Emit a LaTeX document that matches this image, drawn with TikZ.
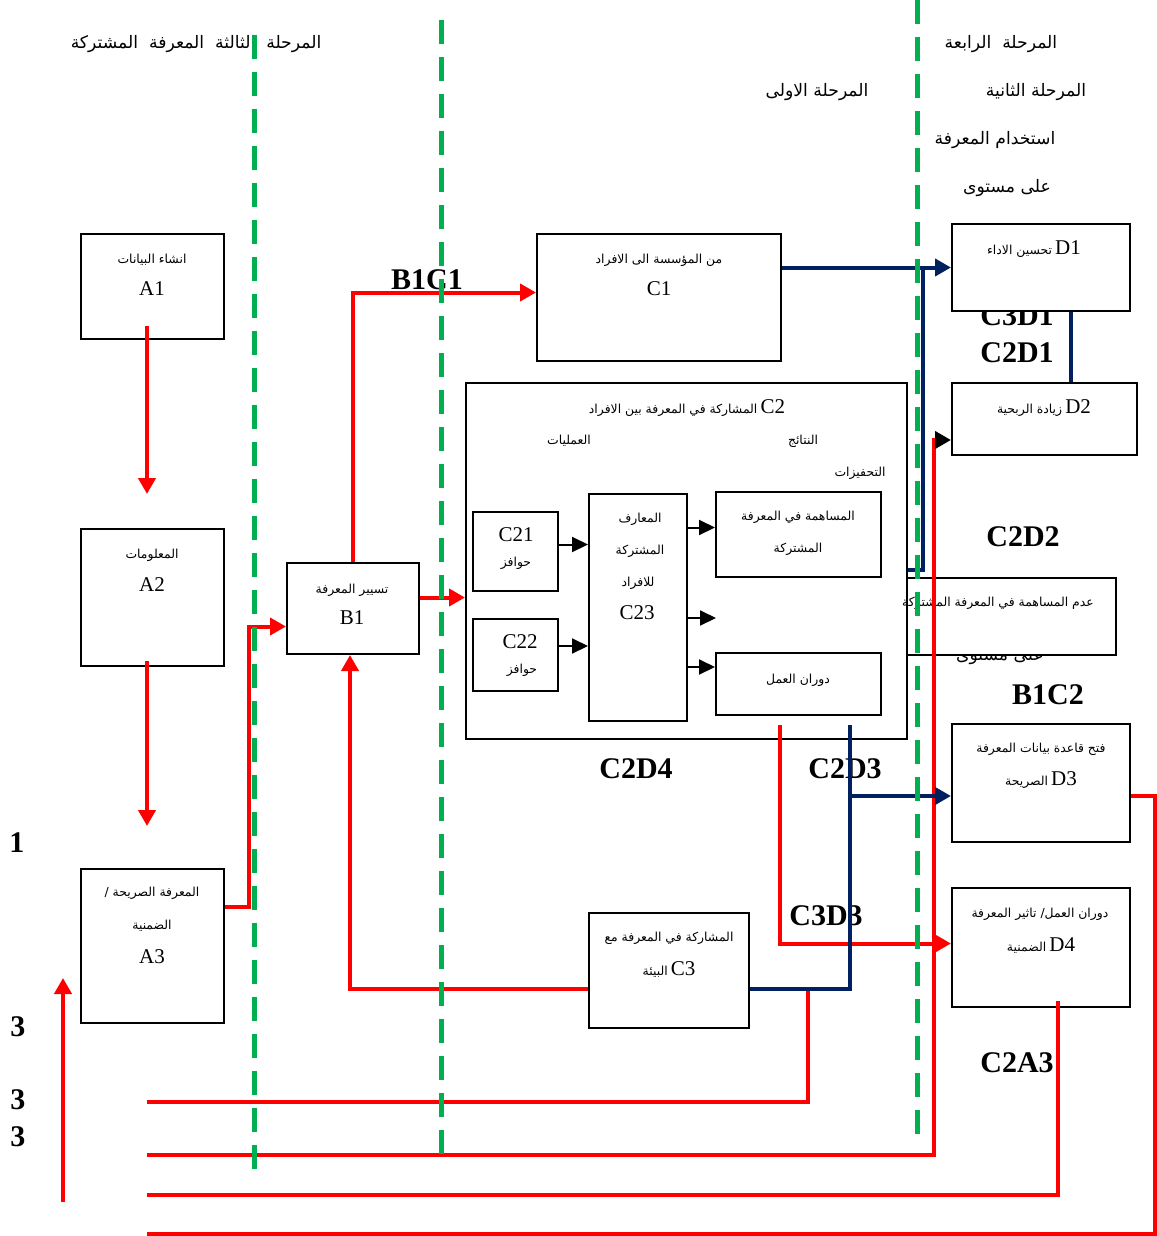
\documentclass[tikz,border=0pt]{standalone}
\usepackage{fontspec}
\setmainfont{Liberation Serif}
\newfontfamily\arabicfont[Script=Arabic]{DejaVu Sans}
\TeXXeTstate=1
\usetikzlibrary{arrows.meta, fit, calc}
\definecolor{Mirojo}{RGB}{255,0,0}
\definecolor{Miazul}{RGB}{0,32,96}
\definecolor{Miverde}{RGB}{0,176,80}
\newcommand{\artxt}[1]{{\arabicfont\beginR #1\endR}}
\newcommand{\lat}[1]{{\fontsize{10.5}{12}\selectfont #1}}

\begin{document}
\begin{tikzpicture}[x=0.5pt, y=-0.5pt,
  caja/.style={draw, line width=1pt, fill=white, inner sep=0pt},
  txa/.style={inner sep=0pt, font=\fontsize{6.2}{7.4}\selectfont},
  txl/.style={inner sep=0pt, font=\fontsize{10.5}{12}\selectfont},
  cab/.style={inner sep=0pt, font=\fontsize{8.6}{10}\selectfont},
  etq/.style={inner sep=0pt, font=\fontsize{15}{16}\selectfont\bfseries},
  fr/.style={Mirojo, line width=2pt, -{Triangle[length=8pt, width=8.5pt]}},
  frk/.style={Mirojo, line width=2pt, -{Triangle[length=8pt, width=8.5pt, color=black]}},
  lr/.style={Mirojo, line width=2pt},
  fn/.style={Miazul, line width=2pt, -{Triangle[length=8pt, width=8.5pt]}},
  ln/.style={Miazul, line width=2pt},
  fk/.style={black, line width=1pt, -{Triangle[length=8pt, width=7.5pt]}},
  gv/.style={Miverde, line width=2.5pt, dash pattern=on 12pt off 6.5pt}
]
\fill[white] (0,0) rectangle (1156,1236);
\useasboundingbox (0,0) rectangle (1156,1236);

%% ── Cabeceras ────────────────────────────────────────────────────────
\node[cab] (H3) at (196,44)  {\artxt{المرحلة\ \ الثالثة\ \ المعرفة\ \ المشتركة}};
\node[cab] (H4) at (1001,44) {\artxt{المرحلة\ \ الرابعة}};
\node[cab] (H1) at (817,92)  {\artxt{المرحلة الاولى}};
\node[cab] (H2) at (1036,92) {\artxt{المرحلة الثانية}};
\node[cab] (H5) at (995,140) {\artxt{استخدام المعرفة}};
\node[cab] (H6) at (1007,188) {\artxt{على مستوى}};
\node[cab] (H7) at (1000,656) {\artxt{على مستوى}};

%% ── Etiquetas ────────────────────────────────────────────────────────
\node[etq] (lB1C1) at (427,280)  {B1C1};
\node[etq] (lC3D1) at (1017,316) {C3D1};
\node[etq] (lC2D1) at (1017,353) {C2D1};
\node[etq] (lC2D2) at (1023,537) {C2D2};
\node[etq] (lB1C2) at (1048,695) {B1C2};
\node[etq] (lC2D4) at (636,769)  {C2D4};
\node[etq] (lC2D3) at (845,769)  {C2D3};
\node[etq] (lC3D3) at (826,916)  {C3D3};
\node[etq] (lC2A3) at (1017,1063) {C2A3};
\node[etq] (n1) at (17,843)  {1};
\node[etq] (n3a) at (18,1027) {3};
\node[etq] (n3b) at (18,1100) {3};
\node[etq] (n3c) at (18,1137) {3};

%% ── Cajas A ──────────────────────────────────────────────────────────
\node[caja, fit={(81,234) (224,339)}] (A1) {};
\node[caja, fit={(81,529) (224,666)}] (A2) {};
\node[caja, fit={(81,869) (224,1023)}] (A3) {};
\node[txa] (A1a) at (152,260) {\artxt{انشاء البيانات}};
\node[txl] (A1b) at (152,289) {A1};
\node[txa] (A2a) at (152,555) {\artxt{المعلومات}};
\node[txl] (A2b) at (152,585) {A2};
\node[txa] (A3a) at (152,893) {\artxt{المعرفة الصريحة /}};
\node[txa] (A3b) at (152,926) {\artxt{الضمنية}};
\node[txl] (A3c) at (152,957) {A3};

%% ── Caja B ───────────────────────────────────────────────────────────
\node[caja, fit={(287,563) (419,654)}] (B1) {};
\node[txa] (B1a) at (352,590) {\artxt{تسيير المعرفة}};
\node[txl] (B1b) at (352,618) {B1};

%% ── Cajas C ──────────────────────────────────────────────────────────
\node[caja, fit={(537,234) (781,361)}] (C1) {};
\node[txa] (C1a) at (659,260) {\artxt{من المؤسسة الى الافراد}};
\node[txl] (C1b) at (659,289) {C1};

\node[caja, fit={(466,383) (907,739)}] (C2) {};
\node[txa] (C2a) at (687,408) {\artxt{المشاركة في المعرفة بين الافراد}\ \lat{C2}};
\node[txa] (C2b) at (569,441) {\artxt{العمليات}};
\node[txa] (C2c) at (803,441) {\artxt{النتائج}};
\node[txa] (C2d) at (860,473) {\artxt{التحفيزات}};

\node[caja, fit={(473,512) (558,591)}] (C21) {};
\node[txl] (C21a) at (516,535) {C21};
\node[txa] (C21b) at (516,563) {\artxt{حوافز}};
\node[caja, fit={(473,619) (558,691)}] (C22) {};
\node[txl] (C22a) at (520,642) {C22};
\node[txa] (C22b) at (522,670) {\artxt{حوافز}};

\node[caja, fit={(589,494) (687,721)}] (C23) {};
\node[txa] (C23a) at (640,519) {\artxt{المعارف}};
\node[txa] (C23b) at (640,551) {\artxt{المشتركة}};
\node[txa] (C23c) at (638,583) {\artxt{للافراد}};
\node[txl] (C23d) at (637,613) {C23};

\node[caja, fit={(716,492) (881,577)}] (C24) {};
\node[txa] (C24a) at (798,517) {\artxt{المساهمة في المعرفة}};
\node[txa] (C24b) at (798,549) {\artxt{المشتركة}};
\node[caja, fit={(716,653) (881,715)}] (C25) {};
\node[txa] (C25a) at (798,680) {\artxt{دوران العمل}};

\node[caja, fit={(589,913) (749,1028)}] (C3) {};
\node[txa] (C3a) at (669,938) {\artxt{المشاركة في المعرفة مع}};
\node[txa] (C3b) at (669,969) {\artxt{البيئة}\ \lat{C3}};

%% ── Cajas D ──────────────────────────────────────────────────────────
\node[caja, fit={(952,224) (1130,311)}] (D1) {};
\node[txa] (D1a) at (1034,249) {\artxt{تحسين الاداء}\ \lat{D1}};
\node[caja, fit={(952,383) (1137,455)}] (D2) {};
\node[txa] (D2a) at (1044,408) {\artxt{زيادة الربحية}\ \lat{D2}};
\node[caja, fit={(907,578) (1116,655)}] (DN) {};
\node[txa] (DNa) at (998,603) {\artxt{عدم المساهمة في المعرفة المشتركة}};
\node[caja, fit={(952,724) (1130,842)}] (D3) {};
\node[txa] (D3a) at (1041,749) {\artxt{فتح قاعدة بيانات المعرفة}};
\node[txa] (D3b) at (1041,780) {\artxt{الصريحة}\ \lat{D3}};
\node[caja, fit={(952,888) (1130,1007)}] (D4) {};
\node[txa] (D4a) at (1040,914) {\artxt{دوران العمل/ تاثير المعرفة}};
\node[txa] (D4b) at (1041,945) {\artxt{الضمنية}\ \lat{D4}};

%% ── Flechas internas C2 ──────────────────────────────────────────────
\coordinate (kC23) at (716,618);
\draw[fk] ($(C21.east)+(0,-7)$) -- ($(C21.east -| C23.west)+(0,-7)$);
\draw[fk] ($(C22.east)+(0,-9)$) -- ($(C22.east -| C23.west)+(0,-9)$);
\draw[fk] ($(C24.west -| C23.east)+(0,-7)$) -- ($(C24.west)+(0,-7)$);
\draw[fk] (C23.east |- kC23) -- (kC23);
\draw[fk] ($(C25.west -| C23.east)+(0,-17)$) -- ($(C25.west)+(0,-17)$);

%% ── Conectores rojos ─────────────────────────────────────────────────
\coordinate (kA2) at (147,494);
\coordinate (kA3) at (147,826);
\coordinate (kB1) at (249,907);
\draw[fr] ($(A1.south -| kA2)+(0,-14)$) -- (kA2);
\draw[fr] ($(A2.south -| kA3)+(0,-6)$) -- (kA3);
\draw[fr] (A3.east |- kB1) -- (kB1) |- ($(B1.west)+(0,18)$);
\draw[fr] (B1.north) |- ($(C1.west)+(0,-5)$);
\draw[fr] ($(B1.east)+(0,-11)$) -- ($(B1.east -| C2.west)+(0,-11)$);
\draw[fr] ($(C3.west)+(0,18.5)$) -| ($(B1.south)+(-3,0)$);

\coordinate (kC2) at (780,725);
\coordinate (kD4) at ($(D4.west)+(0,-4)$);
\draw[fr] (kC2) |- (kD4);

\coordinate (kD2) at ($(D2.west)+(0,21)$);
\coordinate (kL2) at (147,1155);
\draw[frk] (kL2) -| ($(kD2)+(-17,0)$) -- (kD2);

\coordinate (kC3b) at (808,989);
\coordinate (kL1) at (147,1102);
\draw[lr] (kC3b) |- (kL1);
\coordinate (kL3) at (147,1195);
\draw[lr] ($(D4.south)+(17,-7)$) |- (kL3);
\coordinate (kR) at (1155,1234);
\coordinate (kL4) at (147,1234);
\draw[lr] ($(D3.east)+(0,13)$) -| (kR) -- (kL4);
\coordinate (kU1) at (63,1202);
\coordinate (kU2) at (63,978);
\draw[fr] (kU1) -- (kU2);

%% ── Conectores azules ────────────────────────────────────────────────
\coordinate (kD12) at ($(D1.south)+(30,0)$);
\coordinate (kC3) at (850,725);
\coordinate (kD3) at ($(D3.west)+(0,13)$);
\draw[fn] (C1.east |- D1.west) -- (D1.west);
\draw[ln] ($(C2.east)+(0,9)$) -| ($(D1.west)+(-28,0)$);
\draw[ln] (kD12) -- (kD12 |- D2.north);
\draw[ln] ($(C3.east)+(0,18.5)$) -| (kC3);
\draw[fn] (kC3 |- kD3) -- (kD3);

%% ── Fases (verde) ────────────────────────────────────────────────────
\draw[gv] (254,35) -- (254,1175);
\draw[gv] (441,20) -- (441,1165);
\draw[gv] (917,0) -- (917,1145);

\end{tikzpicture}
\end{document}
